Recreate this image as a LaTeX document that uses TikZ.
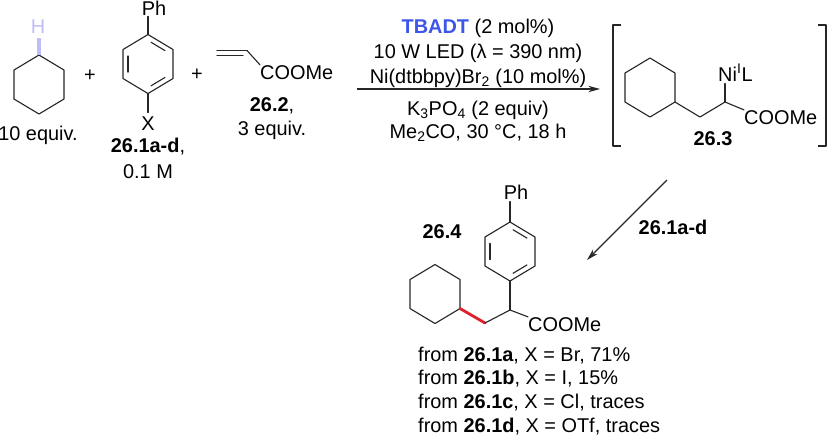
\documentclass[tikz,border=0pt]{standalone}
\usepackage{fontspec}
\setmainfont{Liberation Sans}
\usetikzlibrary{arrows.meta,calc}
\definecolor{catblue}{HTML}{3D55E8}
\definecolor{hlight}{HTML}{BDBDF7}
\definecolor{bondred}{HTML}{E0202A}
\tikzset{
  chem/.style={inner sep=0pt, anchor=base, font=\fontsize{17}{19}\selectfont},
  chemL/.style={chem, anchor=base west},
  bond/.style={line width=0.95pt, color=black!85, line cap=round, line join=round},
  rxn/.style={line width=0.95pt, color=black!85, -{Stealth[length=10pt,width=5.5pt]}}
}
% anillo de seis lados: nombre, x, y
\newcommand{\hexring}[3]{
  \coordinate (#1c) at (#2,#3);
  \foreach \k/\dx/\dy in {1/0/-29.5,2/25/-14.5,3/25/14.5,4/0/29.5,5/-25/14.5,6/-25/-14.5}
    \coordinate (#1\k) at ($(#1c)+(\dx,\dy)$);
  \draw[bond] (#11) -- (#12) -- (#13) -- (#14) -- (#15) -- (#16) -- cycle;
}
% dobles enlaces internos del anillo aromatico
\newcommand{\aroma}[1]{
  \foreach \a/\b in {1/2,3/4,5/6}
    \draw[bond, shorten <=3pt, shorten >=3pt] ($(#1c)!0.8!(#1\a)$) -- ($(#1c)!0.8!(#1\b)$);
}
\begin{document}
\begin{tikzpicture}[x=0.03cm,y=-0.03cm]
  \useasboundingbox (0,0) rectangle (827,435);

  % ciclohexano
  \hexring{cyA}{39}{84.5}
  \node[chem, text=hlight] (hA) at (38,33) {H};
  \draw[line width=3pt, color=hlight, shorten >=4pt] (cyA1) -- (cyA1 |- hA.south);
  \node[chem] (eqA) at (38,140) {10 equiv.};
  \node[chem] (plusA) at (90,81) {+};

  % haluro de arilo
  \hexring{arA}{148}{64}
  \aroma{arA}
  \node[chem] (phA) at (154,15) {Ph};
  \node[chem] (xA) at (148,130) {X};
  \draw[bond, shorten >=1pt] (arA1) -- (arA1 |- phA.south);
  \draw[bond, shorten >=3pt] (arA4) -- (arA4 |- xA.north);
  \node[chem] (nameA) at (148,152) {\textbf{26.1a-d},};
  \node[chem] (concA) at (148,178) {0.1 M};
  \node[chem] (plusB) at (197,80) {+};

  % acrilato
  \node[chemL] (coomeA) at (260,79) {COOMe};
  \coordinate (viA) at (217,52);
  \coordinate (viB) at (247,52);
  \draw[bond] ($(viA)+(0,-1.5)$) -- ($(viB)+(0,-1.5)$);
  \draw[bond] ($(viA)+(0,3.5)$) -- ($(viB)+(-4,3.5)$);
  \draw[bond] ($(viB)+(0,-1.5)$) -- (coomeA.north west);
  \node[chem] (nameB) at (272,111) {\textbf{26.2},};
  \node[chem] (eqB) at (272,135) {3 equiv.};

  % flecha de reaccion
  \coordinate (arrS) at (357,89);
  \coordinate (arrE) at (600,89);
  \draw[rxn] (arrS) -- (arrE);
  \node[chem] (condA) at (478,33) {\textcolor{catblue}{\textbf{TBADT}} (2 mol\%)};
  \node[chem] (condB) at (478,58) {10 W LED (λ = 390 nm)};
  \node[chem] (condC) at (478,83) {Ni(dtbbpy)Br\textsubscript{2} (10 mol\%)};
  \node[chem] (condD) at (478,115) {K\textsubscript{3}PO\textsubscript{4} (2 equiv)};
  \node[chem] (condE) at (478,138) {Me\textsubscript{2}CO, 30 °C, 18 h};

  % intermedio de niquel
  \coordinate (brLa) at (621,25);
  \coordinate (brLb) at (621,146);
  \coordinate (brRa) at (818,25);
  \coordinate (brRb) at (818,146);
  \draw[bond, line cap=butt] (brLa) -- (613,25) -- (613,146) -- (brLb);
  \draw[bond, line cap=butt] (brRa) -- (826,25) -- (826,146) -- (brRb);
  \hexring{cyB}{650}{87.5}
  \coordinate (chB) at (700,117);
  \coordinate (caB) at (725,102);
  \node[chemL] (niB) at (718,81) {Ni\textsuperscript{I}L};
  \node[chemL] (coomeB) at (744,124) {COOMe};
  \draw[bond] (cyB3) -- (chB) -- (caB) -- (coomeB.north west);
  \draw[bond, shorten >=2pt] (caB) -- (caB |- niB.south);
  \node[chem] (nameC) at (713,145) {\textbf{26.3}};

  % segunda flecha
  \coordinate (arrT) at (667,180);
  \coordinate (arrU) at (587,260);
  \draw[rxn] (arrT) -- (arrU);
  \node[chem] (nameD) at (673,234) {\textbf{26.1a-d}};

  % producto
  \node[chem] (nameE) at (442,238) {\textbf{26.4}};
  \hexring{arC}{510}{251.5}
  \aroma{arC}
  \node[chem] (phC) at (516,199) {Ph};
  \draw[bond, shorten >=2pt] (arC1) -- (arC1 |- phC.south);
  \hexring{cyC}{435}{294}
  \coordinate (chC) at (485,323);
  \coordinate (caC) at (510,310);
  \node[chemL] (coomeC) at (528,331) {COOMe};
  \draw[line width=2.4pt, color=bondred, line cap=round] (cyC3) -- (chC);
  \draw[bond] (chC) -- (caC) -- (coomeC.north west);
  \draw[bond] (arC4) -- (caC);

  % rendimientos
  \node[chemL] (yieldA) at (418,361) {from \textbf{26.1a}, X = Br, 71\%};
  \node[chemL] (yieldB) at (418,384) {from \textbf{26.1b}, X = I, 15\%};
  \node[chemL] (yieldC) at (418,408) {from \textbf{26.1c}, X = Cl, traces};
  \node[chemL] (yieldD) at (418,432) {from \textbf{26.1d}, X = OTf, traces};
\end{tikzpicture}
\end{document}
